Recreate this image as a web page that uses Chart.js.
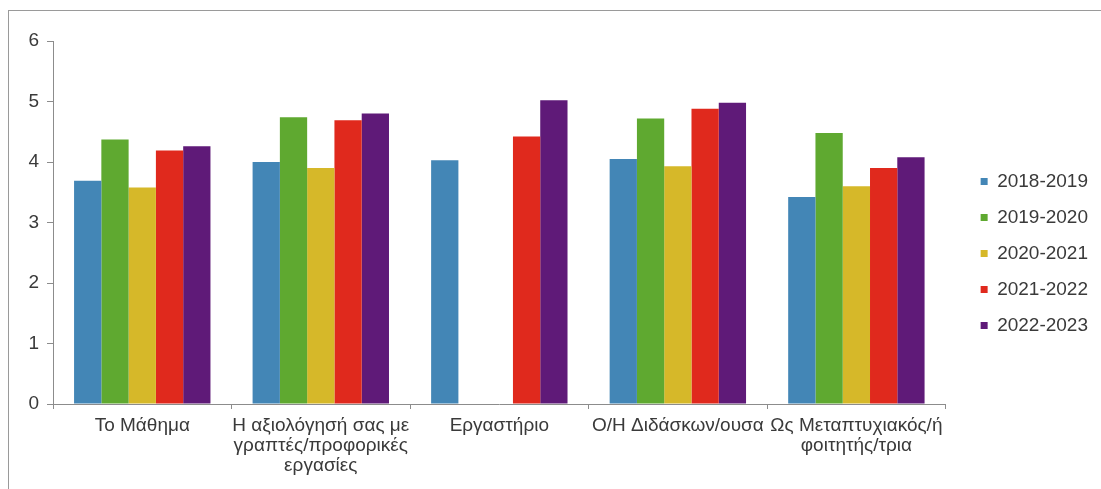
<!DOCTYPE html>
<html>
<head>
<meta charset="utf-8">
<script src="https://cdn.jsdelivr.net/npm/chart.js@4/dist/chart.umd.min.js"></script>
<style>
  html, body { margin: 0; padding: 0; background: #fff; }
  #frame { position: absolute; left: 8px; top: 10px; width: 1093px; height: 479px;
           border-left: 1px solid #9a9a9a; border-top: 1px solid #9a9a9a; }
  #wrap { position: absolute; left: 1px; top: 1px; width: 1092px; height: 478px; }
</style>
</head>
<body>
<div id="frame"><div id="wrap"><canvas id="chart"></canvas></div></div>
<script>
const categories = [
  "Το Μάθημα",
  ["Η αξιολόγησή σας με", "γραπτές/προφορικές", "εργασίες"],
  "Εργαστήριο",
  "Ο/Η Διδάσκων/ουσα",
  ["Ως Μεταπτυχιακός/ή", "φοιτητής/τρια"]
];
const seriesNames = ["2018-2019", "2019-2020", "2020-2021", "2021-2022", "2022-2023"];
const y2018 = [3.69, 4.00, 4.03, 4.05, 3.42];
const y2019 = [4.37, 4.74, null, 4.72, 4.48];
const y2020 = [3.58, 3.90, null, 3.93, 3.60];
const y2021 = [4.19, 4.69, 4.42, 4.88, 3.90];
const y2022 = [4.26, 4.80, 5.02, 4.98, 4.08];
const yTicks = [0, 1, 2, 3, 4, 5, 6];

const colors = ["#4386b6", "#5fa930", "#d6b829", "#e0291d", "#5f1a78"];
const allValues = [y2018, y2019, y2020, y2021, y2022];

const font = { family: "'Liberation Sans', Arial, sans-serif", size: 19 };
const textColor = "#3a3a3a";
const axisColor = "#8c8c8c";

// legend sits a bit away from the plot and higher than centred in the reference
const legendNudge = {
  id: "legendNudge",
  afterLayout(chart) {
    const lg = chart.legend;
    if (!lg) return;
    lg.left += 18; lg.right += 18;
    lg.top -= 12; lg.bottom -= 12;
  }
};

new Chart(document.getElementById("chart"), {
  type: "bar",
  data: {
    labels: categories,
    datasets: seriesNames.map((name, i) => ({
      label: name,
      data: allValues[i],
      backgroundColor: colors[i],
      borderWidth: 0,
      categoryPercentage: 0.764,
      barPercentage: 1.0
    }))
  },
  options: {
    responsive: true,
    maintainAspectRatio: false,
    animation: false,
    layout: { padding: { top: 29, right: 22, bottom: 0, left: 0 } },
    plugins: {
      legend: {
        position: "right",
        labels: {
          boxWidth: 7, boxHeight: 7, padding: 17,
          color: textColor, font: font
        }
      },
      tooltip: { enabled: false }
    },
    scales: {
      x: {
        grid: { display: true, drawOnChartArea: false, drawTicks: true, tickLength: 5, color: axisColor, offset: true },
        border: { display: true, color: axisColor },
        ticks: { color: textColor, font: { ...font, lineHeight: 1.05 }, padding: 7, maxRotation: 0, minRotation: 0, autoSkip: false },
        afterFit: s => { s.height = 86; }
      },
      y: {
        min: 0, max: 6,
        afterBuildTicks: s => { s.ticks = yTicks.map(v => ({ value: v })); },
        grid: { display: true, drawOnChartArea: false, drawTicks: true, tickLength: 6, color: axisColor },
        border: { display: true, color: axisColor },
        ticks: { color: textColor, font: font, padding: 8 },
        afterFit: s => { s.width = 43; }
      }
    }
  },
  plugins: [legendNudge]
});
</script>
</body>
</html>
